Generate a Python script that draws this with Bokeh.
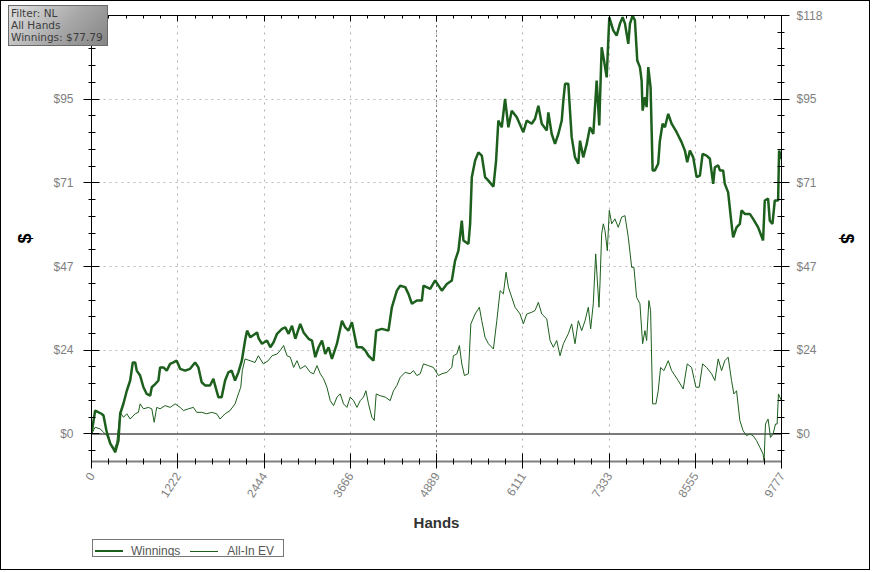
import numpy as np
from bokeh.plotting import figure
from bokeh.layouts import column
from bokeh.models import (Range1d, LinearAxis, FixedTicker, CustomJSTickFormatter,
                          Span, Div)
from bokeh.embed import file_html
from bokeh.resources import INLINE

# ---------------- data ----------------
HANDS_MAX = 9777
Y_MIN = -7.8
Y_MAX = 118.3
X_TICK_LABELS = ["0", "1222", "2444", "3666", "4889", "6111", "7333", "8555", "9777"]
Y_TICK_LABELS = ["$0", "$24", "$47", "$71", "$95", "$118"]
SERIES_NAMES = ["Winnings", "All-In EV"]
INFO_LINES = ["Filter: NL", "All Hands", "Winnings: $77.79"]

WIN_HANDS = [0, 52, 141, 170, 212, 265, 311, 335, 382, 406, 453, 500, 548, 585, 619, 641, 689, 736,
             783, 831, 854, 902, 948, 972, 1019, 1066, 1114, 1161, 1207, 1256, 1326, 1397, 1468, 1515,
             1561, 1609, 1680, 1727, 1751, 1798, 1844, 1893, 1939, 1986, 2034, 2081, 2130, 2176, 2204,
             2251, 2346, 2368, 2416, 2487, 2534, 2580, 2629, 2699, 2746, 2793, 2841, 2888, 2958, 3005,
             3076, 3124, 3171, 3217, 3266, 3312, 3359, 3407, 3478, 3549, 3595, 3642, 3690, 3723, 3761,
             3832, 3878, 3925, 3996, 4034, 4115, 4208, 4256, 4327, 4374, 4445, 4491, 4540, 4610, 4681,
             4704, 4799, 4869, 4964, 5035, 5106, 5152, 5199, 5247, 5270, 5341, 5365, 5389, 5436, 5482,
             5530, 5577, 5624, 5695, 5733, 5765, 5813, 5860, 5907, 5955, 6026, 6119, 6167, 6238, 6285,
             6332, 6380, 6451, 6473, 6521, 6568, 6615, 6663, 6686, 6710, 6756, 6804, 6851, 6898, 6922,
             6968, 7017, 7063, 7110, 7158, 7195, 7205, 7229, 7262, 7300, 7337, 7393, 7441, 7488, 7526,
             7559, 7606, 7630, 7668, 7700, 7733, 7771, 7795, 7809, 7842, 7866, 7889, 7922, 7951, 7983,
             8030, 8054, 8092, 8125, 8172, 8220, 8291, 8361, 8408, 8441, 8479, 8526, 8574, 8621, 8659,
             8715, 8762, 8809, 8833, 8880, 8904, 8950, 8974, 9021, 9069, 9092, 9140, 9187, 9211, 9257,
             9328, 9375, 9446, 9516, 9540, 9587, 9611, 9649, 9682, 9729, 9743, 9777]
WIN_VALUES = [0, 6.6, 5.7, 5.2, 0.9, -2.7, -4.2, -5.2, -1.9, 5.7, 8.6, 12.2, 15.1, 20.2, 20.2, 17.9,
              16.5, 13.2, 11.3, 10.8, 13.2, 14.1, 15.1, 18.8, 18.8, 17.9, 19.8, 20.2, 20.7, 18.4, 17.9,
              18.4, 20.2, 18.8, 14.6, 13.7, 13.7, 15.6, 13.7, 10.4, 10.4, 15.1, 17.4, 17.9, 15.1, 17.4,
              20.7, 26.4, 29.2, 27.3, 28.7, 27.0, 25.5, 26.4, 24.5, 25.9, 28.3, 29.7, 30.1, 28.3, 30.6,
              26.9, 31.1, 28.7, 26.9, 26.4, 21.7, 24.5, 26.4, 22.6, 24.5, 21.2, 25.5, 32.0, 30.1, 29.2,
              31.6, 28.3, 24.5, 24.5, 23.6, 22.1, 20.7, 29.2, 29.7, 29.2, 35.8, 40.5, 41.9, 41.5, 39.6,
              36.8, 37.7, 37.7, 41.9, 41.0, 43.4, 40.5, 42.4, 43.4, 49.0, 51.8, 60.3, 54.7, 53.7, 59.4,
              72.6, 77.3, 79.6, 78.7, 72.6, 71.6, 69.9, 77.3, 88.6, 86.7, 94.7, 86.7, 91.4, 89.5, 85.3,
              88.6, 87.7, 89.1, 92.8, 87.7, 85.8, 90.9, 84.8, 82.0, 84.8, 88.6, 94.3, 99.0, 99.0, 83.9,
              78.2, 76.4, 82.9, 78.2, 82.0, 86.7, 84.8, 99.9, 87.2, 94.3, 109.3, 105.6, 100.8, 117.8,
              114.1, 112.6, 116.0, 117.8, 116.0, 110.3, 116.0, 118.3, 116.9, 105.6, 103.7, 99.9, 91.4,
              95.2, 92.4, 103.7, 98.0, 74.5, 74.5, 76.4, 82.9, 87.7, 86.7, 90.5, 87.7, 85.3, 82.5, 80.1,
              76.8, 80.1, 78.2, 72.6, 73.0, 79.2, 78.7, 77.8, 70.7, 75.4, 75.9, 74.5, 74.5, 70.7, 68.3,
              59.4, 55.6, 58.4, 59.4, 63.2, 62.2, 62.2, 60.8, 58.4, 54.7, 66.0, 66.5, 60.3, 59.4, 66.0,
              66.0, 80.1, 77.79]

EV_HANDS = [0, 52, 123, 170, 217, 265, 326, 358, 406, 453, 500, 548, 619, 665, 689, 736, 807, 854,
            888, 924, 972, 1043, 1114, 1185, 1256, 1302, 1373, 1444, 1491, 1561, 1632, 1703, 1774, 1822,
            1893, 1963, 2034, 2081, 2115, 2137, 2176, 2246, 2317, 2364, 2435, 2505, 2558, 2629, 2675,
            2722, 2770, 2817, 2864, 2912, 2958, 3029, 3100, 3147, 3195, 3242, 3288, 3336, 3383, 3430,
            3478, 3525, 3571, 3619, 3666, 3713, 3761, 3808, 3854, 3888, 3925, 3973, 4006, 4034, 4091,
            4162, 4232, 4279, 4327, 4374, 4445, 4515, 4562, 4610, 4657, 4704, 4774, 4845, 4916, 4964,
            5035, 5106, 5128, 5176, 5213, 5247, 5284, 5341, 5375, 5436, 5496, 5530, 5577, 5624, 5695,
            5743, 5790, 5836, 5874, 5907, 5955, 6002, 6073, 6119, 6167, 6238, 6285, 6332, 6380, 6451,
            6498, 6544, 6592, 6639, 6686, 6756, 6804, 6851, 6898, 6946, 6993, 7040, 7073, 7110, 7144,
            7191, 7205, 7229, 7252, 7276, 7309, 7337, 7371, 7417, 7464, 7512, 7559, 7606, 7654, 7686,
            7724, 7771, 7809, 7842, 7866, 7898, 7922, 7951, 7998, 8030, 8064, 8111, 8172, 8220, 8313,
            8384, 8441, 8503, 8564, 8611, 8659, 8715, 8786, 8833, 8880, 8928, 8974, 9021, 9069, 9102,
            9140, 9187, 9233, 9281, 9328, 9375, 9423, 9470, 9516, 9530, 9550, 9587, 9621, 9658, 9692,
            9715, 9734, 9777]
EV_VALUES = [0, 1.9, 1.4, 0.5, -0.5, -2.8, -4.2, -2.4, 6.1, 4.7, 5.7, 4.2, 5.7, 6.1, 8.5, 7.1, 7.5,
             7.1, 3.3, 7.5, 7.1, 8.0, 7.5, 8.5, 7.5, 6.6, 7.1, 7.5, 6.1, 6.1, 5.7, 6.1, 5.7, 4.2, 5.7,
             6.6, 8.5, 11.3, 13.2, 17.9, 21.2, 20.7, 20.2, 22.1, 19.8, 20.7, 22.1, 22.6, 23.6, 25.0,
             22.1, 21.7, 18.8, 20.7, 18.4, 19.3, 17.4, 17.0, 19.3, 17.0, 15.6, 13.2, 9.4, 8.0, 10.4,
             11.3, 8.5, 7.5, 10.4, 9.4, 7.5, 9.4, 10.4, 12.2, 8.5, 4.7, 3.8, 11.3, 10.8, 10.4, 9.4,
             12.2, 13.7, 16.0, 17.4, 17.0, 17.9, 16.5, 17.0, 19.8, 19.3, 18.8, 16.5, 17.0, 17.4, 18.8,
             22.1, 22.6, 25.0, 19.8, 16.5, 17.0, 31.1, 33.9, 35.8, 32.0, 27.3, 25.5, 24.0, 32.0, 40.5,
             39.6, 45.7, 41.5, 38.6, 35.8, 33.9, 31.1, 33.9, 34.4, 34.9, 37.2, 33.9, 32.5, 26.4, 24.5,
             26.4, 22.1, 25.5, 28.3, 31.1, 25.5, 32.0, 29.2, 32.0, 35.8, 29.7, 36.8, 50.9, 35.8, 42.4,
             56.6, 59.4, 57.5, 51.8, 63.2, 59.4, 60.8, 58.4, 61.3, 61.7, 55.6, 47.1, 47.1, 38.6, 36.8,
             25.5, 29.2, 26.4, 37.7, 34.9, 8.5, 8.5, 12.2, 18.8, 17.9, 20.7, 17.9, 15.1, 12.7, 19.8,
             18.8, 13.2, 13.2, 19.8, 18.8, 17.0, 15.1, 21.2, 17.9, 20.7, 21.7, 15.1, 11.3, 12.2, 3.8,
             0.9, -0.5, 0, -0.5, -1.9, -3.8, -5.7, -7.6, 2.8, 4.2, -1.0, 0, 2.8, 2.8, 11.3, 9.4]

# ---------------- ticks ----------------
X_STEP = HANDS_MAX / (len(X_TICK_LABELS) - 1)
Y_STEP = Y_MAX / (len(Y_TICK_LABELS) - 1)
x_major = [i * X_STEP for i in range(len(X_TICK_LABELS))]
x_minor = [i * X_STEP / 5 for i in range(5 * (len(X_TICK_LABELS) - 1) + 1)]
y_major = [i * Y_STEP for i in range(len(Y_TICK_LABELS))]
y_minor = [i * Y_STEP / 5 for i in range(-1, 5 * (len(Y_TICK_LABELS) - 1) + 1)]
x_ticker = FixedTicker(ticks=x_major, minor_ticks=x_minor)
y_ticker = FixedTicker(ticks=y_major, minor_ticks=y_minor)

x_fmt = CustomJSTickFormatter(args=dict(labels=X_TICK_LABELS, step=X_STEP),
                              code="const i = Math.round(tick/step); return (i>=0 && i<labels.length) ? labels[i] : '';")
y_fmt = CustomJSTickFormatter(args=dict(labels=Y_TICK_LABELS, step=Y_STEP),
                              code="const i = Math.round(tick/step); return (i>=0 && i<labels.length) ? labels[i] : '';")
blank_fmt = CustomJSTickFormatter(code="return '';")

GREEN = "#1d5f1d"
TICK_GRAY = "#808080"

p = figure(width=870, height=570, output_backend="svg", toolbar_location=None,
           x_range=Range1d(0, HANDS_MAX), y_range=Range1d(Y_MIN, Y_MAX),
           min_border_left=90, min_border_right=90, min_border_top=14, min_border_bottom=110,
           outline_line_color=None, background_fill_color="white", border_fill_color="white")
p.styles = {"border": "1px solid #000000"}

# bottom axis
xa = p.xaxis[0]
xa.ticker = x_ticker
xa.formatter = x_fmt
xa.axis_line_color = TICK_GRAY
xa.axis_line_width = 2
xa.major_tick_line_color = "black"
xa.minor_tick_line_color = "black"
xa.major_tick_in = 8
xa.major_tick_out = 7
xa.minor_tick_in = 3
xa.minor_tick_out = 3
xa.major_label_orientation = 1.0
xa.major_label_standoff = 5
xa.major_label_text_color = TICK_GRAY
xa.major_label_text_font = "Liberation Sans"
xa.major_label_text_font_size = "12px"
xa.axis_label = "Hands"
xa.axis_label_text_font = "Liberation Sans"
xa.axis_label_text_font_style = "bold"
xa.axis_label_text_font_size = "15px"
xa.axis_label_text_color = "#333333"
xa.axis_label_standoff = 10

# left axis
ya = p.yaxis[0]
ya.ticker = y_ticker
ya.formatter = y_fmt
ya.axis_line_color = "black"
ya.major_tick_line_color = "black"
ya.minor_tick_line_color = "black"
ya.major_tick_in = 8
ya.major_tick_out = 8
ya.minor_tick_in = 4
ya.minor_tick_out = 3
ya.major_label_standoff = 10
ya.major_label_text_color = TICK_GRAY
ya.major_label_text_font = "Liberation Sans"
ya.major_label_text_font_size = "12px"
ya.axis_label = "$"
ya.axis_label_text_font = "Liberation Sans"
ya.axis_label_text_font_style = "bold"
ya.axis_label_text_font_size = "18px"
ya.axis_label_text_color = "black"
ya.axis_label_standoff = 10

# right axis
ra = LinearAxis(ticker=y_ticker, formatter=y_fmt, axis_label="$")
for k in ["axis_line_color", "major_tick_line_color", "minor_tick_line_color",
          "major_tick_in", "major_tick_out", "minor_tick_in", "minor_tick_out",
          "major_label_text_color", "major_label_text_font", "major_label_text_font_size",
          "axis_label_text_font", "axis_label_text_font_style", "axis_label_text_font_size",
          "axis_label_text_color"]:
    setattr(ra, k, getattr(ya, k))
ra.major_label_standoff = 7
ra.axis_label_standoff = 12
p.add_layout(ra, "right")

# top axis (line + inward ticks, no labels)
ta = LinearAxis(ticker=x_ticker, formatter=blank_fmt)
ta.axis_line_color = "black"
ta.major_tick_line_color = "black"
ta.minor_tick_line_color = "black"
ta.major_tick_in = 6
ta.major_tick_out = 0
ta.minor_tick_in = 3
ta.minor_tick_out = 0
ta.major_label_text_font_size = "1px"
p.add_layout(ta, "above")

# grids
p.xgrid.ticker = x_ticker
p.ygrid.ticker = y_ticker
p.xgrid.grid_line_color = "#b0b0b0"
p.xgrid.grid_line_dash = "2 5"
p.ygrid.grid_line_color = "#b8b8b8"
p.ygrid.grid_line_dash = "2 4"

mid = Span(location=x_major[len(x_major) // 2], dimension="height", line_color="black",
           line_dash="1 4", line_width=1, level="underlay")
p.add_layout(mid)
zero = Span(location=0, dimension="width", line_color="#7a7a7a", line_width=2, level="underlay")
p.add_layout(zero)

# series
r_win = p.line(WIN_HANDS, WIN_VALUES, line_color=GREEN, line_width=2.5)
r_ev = p.line(EV_HANDS, EV_VALUES, line_color=GREEN, line_width=1)

# legend box below the chart (HTML overlay, real text)
legend_html = (
    '<div style="display:flex;align-items:center;height:16px;">'
    f'<span style="display:inline-block;width:28px;border-top:2px solid {GREEN};margin:0 8px 0 2px;"></span>'
    f'<span>{SERIES_NAMES[0]}</span>'
    f'<span style="display:inline-block;width:28px;border-top:1px solid {GREEN};margin:0 9px 0 10px;"></span>'
    f'<span>{SERIES_NAMES[1]}</span>'
    '</div>')
legend_div = Div(text=legend_html, width=192, height=18, margin=0,
                 styles={"position": "absolute", "left": "92px", "top": "539px", "z-index": "10",
                         "box-sizing": "border-box", "width": "192px", "height": "18px",
                         "background": "#ffffff", "border": "1px solid #777777",
                         "font-family": "'Liberation Sans', Arial, sans-serif", "font-size": "12px",
                         "line-height": "16px", "color": "#555555", "white-space": "nowrap",
                         "overflow": "hidden"})

# info box (top-left overlay)
info = Div(text="<br>".join(INFO_LINES), width=100, height=41, margin=0,
           styles={"position": "absolute", "left": "8px", "top": "5px", "z-index": "10",
                   "box-sizing": "border-box", "width": "100px", "height": "41px",
                   "background": "linear-gradient(135deg, #e2e2e2 0%, #a8a8a8 55%, #858585 100%)",
                   "border": "1px solid #6a6a6a", "padding": "1px 0 0 2px",
                   "font-family": "'DejaVu Sans', sans-serif", "font-size": "10.5px",
                   "line-height": "12px", "color": "#3c3c3c", "white-space": "nowrap",
                   "overflow": "hidden"})

layout = column(p, info, legend_div)

html = file_html(layout, INLINE)
html = html.replace("<head>", "<head><style>html,body{margin:0;padding:0;overflow:hidden;}</style>", 1)
open("out.html", "w").write(html)
